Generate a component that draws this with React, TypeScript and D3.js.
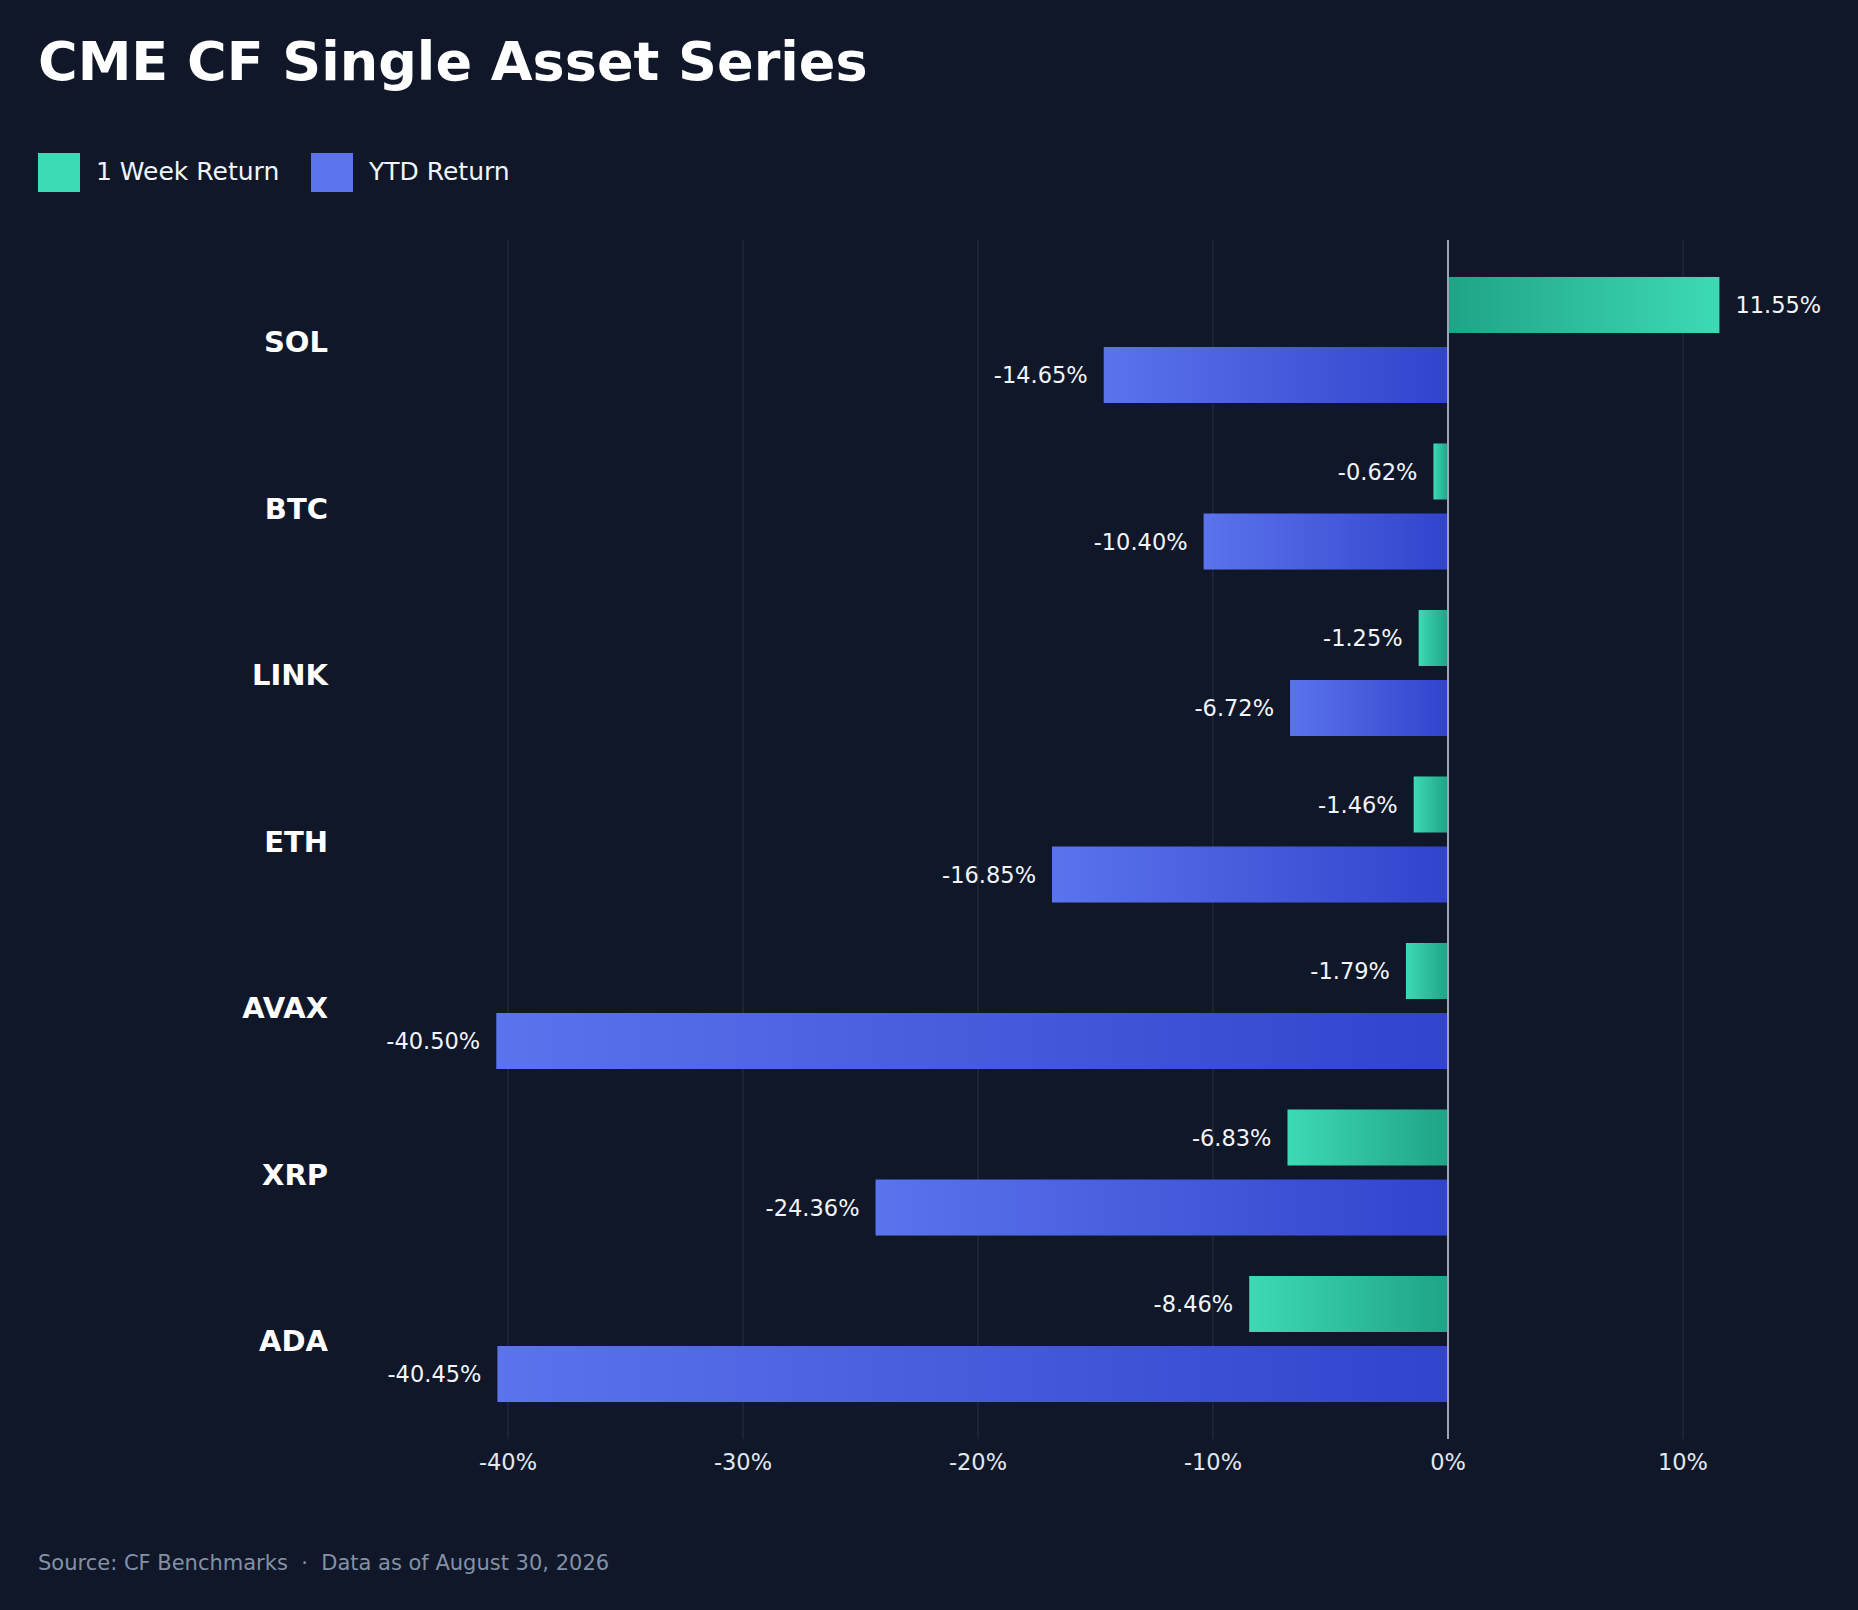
import React from 'react';
import * as d3 from 'd3';

const assets = ['SOL', 'BTC', 'LINK', 'ETH', 'AVAX', 'XRP', 'ADA'];
const weekReturn = [11.55, -0.62, -1.25, -1.46, -1.79, -6.83, -8.46];
const ytdReturn = [-14.65, -10.4, -6.72, -16.85, -40.5, -24.36, -40.45];
const tickValues = [-40, -30, -20, -10, 0, 10];
const seriesKeys = ['week', 'ytd'];
const seriesNames = ['1 Week Return', 'YTD Return'];

const W = 1858;
const H = 1610;
const FONT = '"DejaVu Sans", Verdana, sans-serif';

// bright end / dark end of each series gradient
const colors: Record<string, [string, string]> = {
  week: ['#3ddab5', '#1fa386'],
  ytd: ['#5b73ed', '#3243cc'],
};

export default function App() {
  const x = d3.scaleLinear().domain([-45, 15]).range([390.5, 1800.5]);
  const y = d3.scaleBand<string>()
    .domain(assets)
    .range([241, 1438])
    .paddingInner(0.243)
    .paddingOuter(0.216);
  const sub = d3.scaleBand<string>()
    .domain(seriesKeys)
    .range([0, y.bandwidth()])
    .paddingInner(0.2);

  const rows = assets.map((a, i) => ({ asset: a, week: weekReturn[i], ytd: ytdReturn[i] }));
  const fmt = (v: number) => `${v.toFixed(2)}%`;

  return (
    <svg
      width={W}
      height={H}
      style={{ position: 'absolute', left: 0, top: 0, display: 'block' }}
      fontFamily={FONT}
    >
      <defs>
        {seriesKeys.map(k => (
          <React.Fragment key={k}>
            <linearGradient id={`grad-${k}-pos`} x1="0%" x2="100%" y1="0%" y2="0%">
              <stop offset="0%" stopColor={colors[k][1]} />
              <stop offset="100%" stopColor={colors[k][0]} />
            </linearGradient>
            <linearGradient id={`grad-${k}-neg`} x1="0%" x2="100%" y1="0%" y2="0%">
              <stop offset="0%" stopColor={colors[k][0]} />
              <stop offset="100%" stopColor={colors[k][1]} />
            </linearGradient>
          </React.Fragment>
        ))}
      </defs>
      <rect width={W} height={H} fill="#0f1729" />

      <text x={38} y={80} fill="#ffffff" fontSize={54} fontWeight="bold">
        CME CF Single Asset Series
      </text>

      {/* legend */}
      <g>
        <rect x={38} y={153} width={42} height={39} fill={colors.week[0]} />
        <text x={96} y={180} fill="#f1f5f9" fontSize={25}>{seriesNames[0]}</text>
        <rect x={311} y={153} width={42} height={39} fill={colors.ytd[0]} />
        <text x={369} y={180} fill="#f1f5f9" fontSize={25}>{seriesNames[1]}</text>
      </g>

      {/* grid */}
      {tickValues.filter(t => t !== 0).map(t => (
        <line key={t} x1={x(t)} x2={x(t)} y1={240} y2={1439} stroke="#1f2a3d" strokeWidth={1.5} />
      ))}

      {/* bars */}
      {rows.map(r => (
        <g key={r.asset} transform={`translate(0,${y(r.asset)})`}>
          <text
            x={328}
            y={y.bandwidth() / 2 + 2}
            dy="0.36em"
            textAnchor="end"
            fill="#ffffff"
            fontSize={29}
            fontWeight="bold"
          >
            {r.asset}
          </text>
          {seriesKeys.map(k => {
            const v = (r as any)[k] as number;
            const x0 = x(Math.min(0, v));
            const x1 = x(Math.max(0, v));
            const by = sub(k) as number;
            return (
              <g key={k}>
                <rect
                  x={x0}
                  y={by}
                  width={x1 - x0}
                  height={sub.bandwidth()}
                  fill={`url(#grad-${k}-${v >= 0 ? 'pos' : 'neg'})`}
                />
                <text
                  x={v >= 0 ? x1 + 16 : x0 - 16}
                  y={by + sub.bandwidth() / 2}
                  dy="0.36em"
                  textAnchor={v >= 0 ? 'start' : 'end'}
                  fill="#f1f5f9"
                  fontSize={22.5}
                >
                  {fmt(v)}
                </text>
              </g>
            );
          })}
        </g>
      ))}

      {/* zero line */}
      <line x1={x(0)} x2={x(0)} y1={240} y2={1439} stroke="#9aa5b8" strokeWidth={2} />

      {/* x axis labels */}
      {tickValues.map(t => (
        <text key={t} x={x(t)} y={1470} textAnchor="middle" fill="#e2e8f0" fontSize={22.5}>
          {`${t}%`}
        </text>
      ))}

      <text x={38} y={1570} fill="#8391a7" fontSize={21} style={{ whiteSpace: 'pre' }}>
        {'Source: CF Benchmarks  ·  Data as of August 30, 2026'}
      </text>
    </svg>
  );
}
